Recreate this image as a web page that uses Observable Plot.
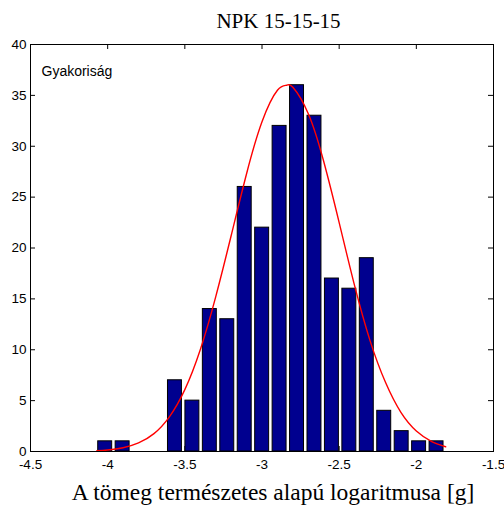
<!DOCTYPE html>
<html>
<head>
<meta charset="utf-8">
<script src="https://cdn.jsdelivr.net/npm/d3@7"></script>
<script src="https://cdn.jsdelivr.net/npm/@observablehq/plot@0.6"></script>
<style>
  html, body { margin: 0; padding: 0; background: #fff; }
</style>
</head>
<body>
<div id="chart"></div>
<script>
// ---- data ----
const binCenters = [-4.016, -3.903, -3.790, -3.677, -3.564, -3.451, -3.338, -3.225, -3.112, -2.999,
                    -2.886, -2.773, -2.660, -2.547, -2.434, -2.321, -2.208, -2.095, -1.982, -1.869];
const counts     = [1, 1, 0, 0, 7, 5, 14, 13, 26, 22, 32, 36, 33, 17, 16, 19, 4, 2, 1, 1];

// fitted normal curve
const curveX = [-4.07, -4.0, -3.9, -3.8, -3.7, -3.6, -3.5, -3.4, -3.3, -3.2, -3.1, -3.0, -2.9, -2.84,
                -2.8, -2.7, -2.6, -2.5, -2.4, -2.3, -2.2, -2.1, -2.0, -1.9, -1.81];
const curveY = [0.07, 0.15, 0.37, 0.84, 1.76, 3.41, 6.08, 10.0, 15.2, 21.2, 27.3, 32.4, 35.5, 36.0,
                35.8, 33.2, 28.5, 22.5, 16.3, 10.9, 6.8, 3.85, 2.02, 0.98, 0.47];

const xTicks = [-4.5, -4, -3.5, -3, -2.5, -2, -1.5];
const xTickLabels = ["-4.5", "-4", "-3.5", "-3", "-2.5", "-2", "-1.5"];
const yTicks = [0, 5, 10, 15, 20, 25, 30, 35, 40];
const yTickLabels = ["0", "5", "10", "15", "20", "25", "30", "35", "40"];

const titleText = "NPK 15-15-15";
const xLabelText = "A tömeg természetes alapú logaritmusa [g]";
const yLabelText = "Gyakoriság";

// ---- layout / style ----
const W = 504, H = 506;
const mL = 30, mR = 11, mT = 44, mB = 55;
const pw = W - mL - mR, ph = H - mT - mB;
const tickLen = 5;
const barFrac = 0.8;
const halfBar = barFrac * (binCenters[1] - binCenters[0]) / 2;

const bins = binCenters.map((c, i) => ({c, n: counts[i]}));
const curve = curveX.map((x, i) => ({x, y: curveY[i]}));
const xFmt = new Map(xTicks.map((t, i) => [t, xTickLabels[i]]));
const yFmt = new Map(yTicks.map((t, i) => [t, yTickLabels[i]]));

const serif = "'Liberation Serif', 'Times New Roman', Times, serif";

const chart = Plot.plot({
  width: W,
  height: H,
  marginLeft: mL,
  marginRight: mR,
  marginTop: mT,
  marginBottom: mB,
  style: {
    fontFamily: "'Liberation Sans', Arial, Helvetica, sans-serif",
    fontSize: "13.5px",
    background: "#fff",
    color: "#000"
  },
  x: {domain: [-4.5, -1.5]},
  y: {domain: [0, 40]},
  marks: [
    // inward ticks on all four sides
    Plot.tickY(yTicks, {y: d => d, insetRight: pw - tickLen, stroke: "#000"}),
    Plot.tickY(yTicks, {y: d => d, insetLeft: pw - tickLen, stroke: "#000"}),
    Plot.tickX(xTicks, {x: d => d, insetTop: ph - tickLen, stroke: "#000"}),
    Plot.tickX(xTicks, {x: d => d, insetBottom: ph - tickLen, stroke: "#000"}),
    // tick labels
    Plot.axisX(xTicks, {tickSize: 0, tickPadding: 8, label: null, tickFormat: d => xFmt.get(d), fill: "#000"}),
    Plot.axisY(yTicks, {tickSize: 0, tickPadding: 4, label: null, tickFormat: d => yFmt.get(d), fill: "#000"}),
    // histogram bars
    Plot.rectY(bins, {
      x1: d => d.c - halfBar,
      x2: d => d.c + halfBar,
      y1: 0,
      y2: d => d.n,
      fill: "#00008f",
      stroke: "#000",
      strokeWidth: 1
    }),
    // fitted curve
    Plot.line(curve, {x: "x", y: "y", stroke: "#ff0000", strokeWidth: 1.4, curve: "natural"}),
    Plot.frame({stroke: "#000", strokeWidth: 1}),
    // texts
    Plot.text([yLabelText], {text: d => d, frameAnchor: "top-left", textAnchor: "start", lineAnchor: "top", dx: 11, dy: 22, fontSize: 14, fill: "#000"}),
    Plot.text([titleText], {text: d => d, frameAnchor: "top", lineAnchor: "bottom", dx: 16.5, dy: -16.3, fontSize: 21, fontFamily: serif, fill: "#000"}),
    Plot.text([xLabelText], {text: d => d, frameAnchor: "bottom", lineAnchor: "bottom", dx: 11, dy: 48.5, fontSize: 23.5, fontFamily: serif, fill: "#000"})
  ]
});

document.getElementById("chart").appendChild(chart);
</script>
</body>
</html>
